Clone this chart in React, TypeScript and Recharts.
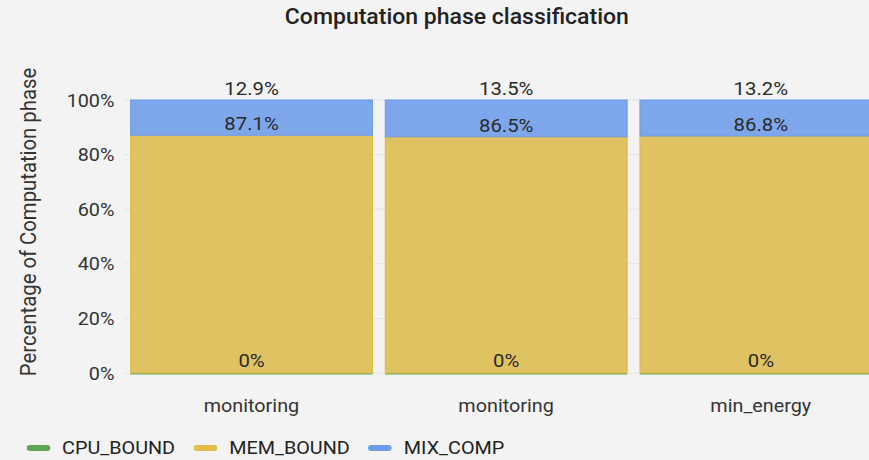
import React from 'react';
import { BarChart, Bar, XAxis, YAxis, CartesianGrid, LabelList } from 'recharts';

// run names along the x axis (the first two runs share a name)
const runs = ['monitoring', 'monitoring', 'min_energy'];

// share of the computation phase per class, in percent
const cpuBound = [0, 0, 0];
const memBound = [87.1, 86.5, 86.8];
const mixComp = [12.9, 13.5, 13.2];

const yTicks = [0, 20, 40, 60, 80, 100];

const series = [
  { key: 'CPU_BOUND', values: cpuBound, fill: '#62a852', stroke: '#62a852', legend: '#5ea556' },
  { key: 'MEM_BOUND', values: memBound, fill: '#dfc262', stroke: '#e2b944', legend: '#e3bd47' },
  { key: 'MIX_COMP', values: mixComp, fill: '#7ea7eb', stroke: '#6f9ce8', legend: '#6d9cec' },
];

const data = runs.map((name, i) => {
  const row: Record<string, string | number> = { name };
  series.forEach((s) => {
    row[s.key] = s.values[i];
  });
  return row;
});

// the whole figure is drawn a bit narrower and stretched sideways
const STRETCH = 1.07;
const FONT = 'Roboto, "Noto Sans", sans-serif';
const CHART_W = 838;

const pct = (v: number) => `${v}%`;

// zero-height bars still get a thin strip along the baseline
const BaselineBar = (props: any) => {
  const { x, y, width, height, fill } = props;
  const base = y + height;
  return <rect x={x} y={base - 1} width={width} height={2.5} fill={fill} />;
};

const YLabel = (props: any) => {
  const { viewBox } = props;
  const cx = viewBox.x + 26;
  const cy = 222;
  return (
    <text
      x={cx}
      y={cy}
      transform={`rotate(-90 ${cx} ${cy})`}
      textAnchor="middle"
      dominantBaseline="central"
      fontSize={20.3}
      fill="#333"
      fontFamily={FONT}
    >
      Percentage of Computation phase
    </text>
  );
};

export default function App() {
  return (
    <div
      style={{
        position: 'fixed',
        left: 0,
        top: 0,
        width: 869,
        height: 460,
        overflow: 'hidden',
        background: '#f3f3f3',
        fontFamily: FONT,
      }}
    >
      <div
        style={{
          position: 'absolute',
          left: 0,
          top: 0,
          width: CHART_W,
          height: 460,
          transform: `scaleX(${STRETCH})`,
          transformOrigin: '0 0',
        }}
      >
        <div
          style={{
            position: 'absolute',
            left: 0,
            width: 854,
            top: 4,
            textAlign: 'center',
            fontSize: 21.5,
            fontWeight: 500,
            color: '#222',
          }}
        >
          Computation phase classification
        </div>

        <BarChart
          width={CHART_W}
          height={460}
          data={data}
          margin={{ top: 100, right: 8, bottom: 37, left: 0 }}
          barCategoryGap={6.1}
        >
          <CartesianGrid vertical={false} stroke="#e4e4e4" />
          <XAxis
            dataKey="name"
            tickLine={false}
            axisLine={false}
            tickSize={0}
            tickMargin={26}
            height={50}
            tick={{ fill: '#333', fontSize: 18.5, fontFamily: FONT }}
          />
          <YAxis
            width={116}
            domain={[0, 100]}
            ticks={yTicks}
            tickFormatter={pct}
            tickLine={false}
            axisLine={false}
            tickMargin={3}
            tick={{ fill: '#333', fontSize: 18.5, fontFamily: FONT }}
            label={<YLabel />}
          />
          <Bar
            dataKey="CPU_BOUND"
            stackId="phase"
            fill={series[0].fill}
            minPointSize={1}
            shape={<BaselineBar />}
            isAnimationActive={false}
          >
            <LabelList dataKey="CPU_BOUND" position="top" formatter={pct} fill="#2a2a2a" fontSize={19} fontFamily={FONT} />
          </Bar>
          <Bar
            dataKey="MEM_BOUND"
            stackId="phase"
            fill={series[1].fill}
            stroke={series[1].stroke}
            strokeWidth={1}
            isAnimationActive={false}
          >
            <LabelList dataKey="MEM_BOUND" position="top" formatter={pct} fill="#2a2a2a" fontSize={19} fontFamily={FONT} />
          </Bar>
          <Bar
            dataKey="MIX_COMP"
            stackId="phase"
            fill={series[2].fill}
            stroke={series[2].stroke}
            strokeWidth={1}
            isAnimationActive={false}
          >
            <LabelList dataKey="MIX_COMP" position="top" formatter={pct} fill="#2a2a2a" fontSize={19} fontFamily={FONT} />
          </Bar>
        </BarChart>

        <div
          style={{
            position: 'absolute',
            left: 25,
            top: 437,
            display: 'flex',
            alignItems: 'center',
            fontSize: 18.5,
            color: '#222',
          }}
        >
          {series.map((s) => (
            <div key={s.key} style={{ display: 'flex', alignItems: 'center', marginRight: 17.5 }}>
              <span
                style={{
                  display: 'inline-block',
                  width: 21.5,
                  height: 6,
                  borderRadius: 3,
                  background: s.legend,
                  marginRight: 11.5,
                }}
              />
              <span>{s.key}</span>
            </div>
          ))}
        </div>
      </div>
    </div>
  );
}
